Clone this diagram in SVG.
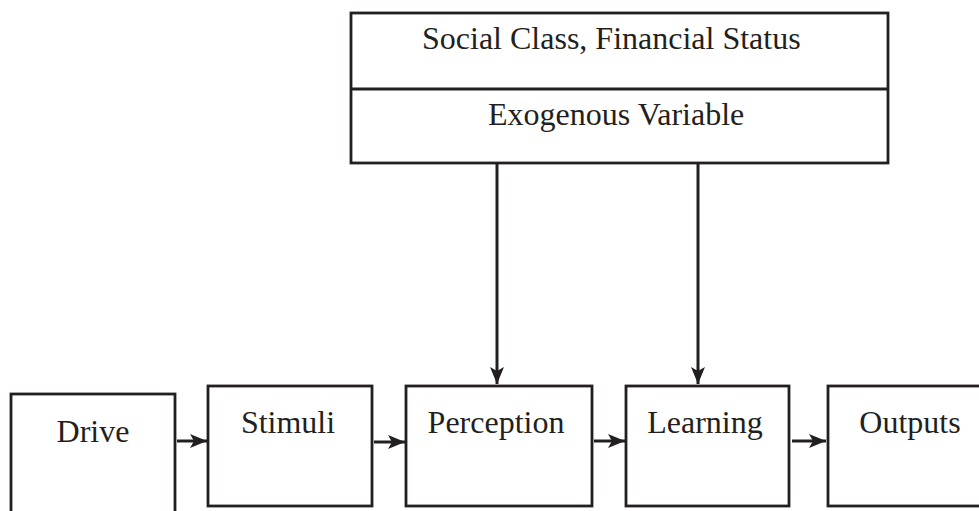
<svg xmlns="http://www.w3.org/2000/svg" width="979" height="511" viewBox="0 0 979 511">
  <style>
    .box { fill: #ffffff; stroke: #231f20; stroke-width: 2.8; }
    .lbl { font-family: "Liberation Serif", "Times New Roman", serif; font-size: 32px; fill: #231f20; }
    .conn { stroke: #231f20; stroke-width: 3; fill: none; }
  </style>
  <defs>
    <marker id="arrow" markerUnits="userSpaceOnUse" markerWidth="18" markerHeight="14" refX="17" refY="7" orient="auto" viewBox="0 0 18 14">
      <path d="M0,0 L17,7 L0,14 L4,7 Z" fill="#231f20"/>
    </marker>
  </defs>
  <rect width="979" height="511" fill="#ffffff"/>

  <g id="exogenous">
    <rect class="box" x="351" y="13" width="537" height="150"/>
    <line x1="351" y1="89" x2="888" y2="89" stroke="#231f20" stroke-width="2.8"/>
    <text class="lbl" x="422" y="49">Social Class, Financial Status</text>
    <text class="lbl" x="488" y="125">Exogenous Variable</text>
  </g>

  <g id="drive">
    <rect class="box" x="11" y="394" width="164" height="130"/>
    <text class="lbl" x="93" y="442" text-anchor="middle">Drive</text>
  </g>
  <g id="stimuli">
    <rect class="box" x="208" y="386" width="164" height="120"/>
    <text class="lbl" x="288" y="433" text-anchor="middle">Stimuli</text>
  </g>
  <g id="perception">
    <rect class="box" x="406" y="386" width="186" height="120"/>
    <text class="lbl" x="496" y="433" text-anchor="middle">Perception</text>
  </g>
  <g id="learning">
    <rect class="box" x="626" y="386" width="163" height="120"/>
    <text class="lbl" x="705" y="433" text-anchor="middle">Learning</text>
  </g>
  <g id="outputs">
    <rect class="box" x="828" y="386" width="170" height="120"/>
    <text class="lbl" x="910" y="433" text-anchor="middle">Outputs</text>
  </g>

  <g id="connectors">
    <line class="conn" x1="497" y1="163" x2="497" y2="384" marker-end="url(#arrow)"/>
    <line class="conn" x1="698" y1="163" x2="698" y2="384" marker-end="url(#arrow)"/>
    <line class="conn" x1="177" y1="441" x2="207" y2="441" marker-end="url(#arrow)"/>
    <line class="conn" x1="374" y1="442" x2="405" y2="442" marker-end="url(#arrow)"/>
    <line class="conn" x1="594" y1="441" x2="625" y2="441" marker-end="url(#arrow)"/>
    <line class="conn" x1="792" y1="441" x2="826" y2="441" marker-end="url(#arrow)"/>
  </g>
</svg>
